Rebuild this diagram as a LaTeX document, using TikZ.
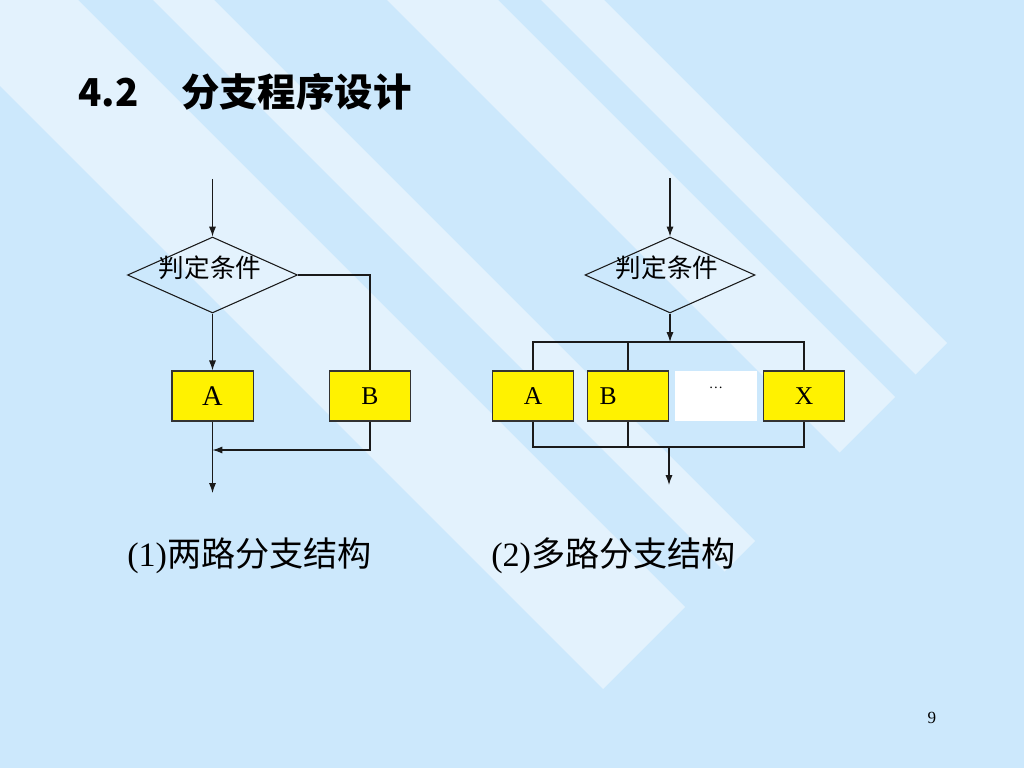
\documentclass[tikz,border=0pt]{standalone}
\usepackage{fontspec}
\setmainfont{Liberation Serif}
\newfontfamily\cjk{Noto Sans CJK SC}
\usetikzlibrary{shapes.geometric,arrows.meta}
\definecolor{bgblue}{HTML}{CCE8FC}
\definecolor{bandblue}{HTML}{E3F2FD}
\definecolor{lncol}{HTML}{1A1A1A}
\tikzset{
 ln/.style={draw=lncol, line width=0.75pt},
 arr/.style={ln, -{Latex[length=7pt,width=5pt]}},
 box/.style={rectangle, draw=black!80, line width=0.75pt, fill=yellow, minimum width=57pt, minimum height=35.2pt, inner sep=0pt, font=\fontsize{18}{18}\selectfont},
 wbox/.style={rectangle, fill=white, minimum width=57pt, minimum height=35.2pt, inner sep=0pt},
 dia/.style={diamond, draw=lncol, line width=0.75pt, minimum width=119.5pt, minimum height=53.4pt, inner sep=0pt},
 dlbl/.style={font=\cjk\fontsize{18}{18}\selectfont, inner sep=0pt},
 captxt/.style={font=\fontsize{24}{24}\selectfont, anchor=west, inner sep=0pt},
 band/.style={fill=bandblue},
}
\begin{document}
\begin{tikzpicture}[x=0.703125pt, y=-0.703125pt]
\useasboundingbox (0,0) rectangle (1024,768);
\fill[bgblue] (0,0) rectangle (1024,768);
\begin{scope}
\clip (0,0) rectangle (1024,768);
\fill[band] (-200,-114) -- (603,689) -- (685,607) -- (-200,-278) -- cycle;
\fill[band] (-200,-353) -- (724.5,571.5) -- (755,541) -- (-200,-414) -- cycle;
\fill[band] (-200,-587) -- (839.5,452.5) -- (895,397) -- (-200,-698) -- cycle;
\fill[band] (-200,-741) -- (915.5,374.5) -- (947,343) -- (-200,-804) -- cycle;
\end{scope}

% title
\node[anchor=west, inner sep=0pt, font=\cjk\bfseries\fontsize{27}{27}\selectfont] (title) at (78,92) {4.2\hspace{30pt}分支程序设计};

% left diagram
\coordinate (in1) at (212.5,179);
\node[dia] (d1) at (212.5,275) {};
\node[dlbl] (t1) at (210,268) {判定条件};
\node[box, font=\fontsize{20}{20}\selectfont] (a1) at (212.5,396) {A};
\node[box] (b1) at (370,396) {B};
\coordinate (j1) at (212.5,450);
\coordinate (out1) at (212.5,493);
\draw[arr] (in1) -- (d1.north);
\draw[arr] (d1.south) -- (a1.north);
\draw[ln] (d1.east) -| (b1.north);
\draw[arr] (b1.south) |- (j1);
\draw[arr] (a1.south) -- (out1);

% right diagram
\coordinate (in2) at (670,178);
\node[dia] (d2) at (670,275) {};
\node[dlbl] (t2) at (667,268) {判定条件};
\node[box] (a2) at (533,396) {A};
\node[box, align=left, text width=40pt, inner xsep=8.5pt] (b2) at (628,396) {B};
\node[wbox, font=\fontsize{10}{10}\selectfont, text height=0pt, text depth=10pt] (w2) at (716,396) {…};
\node[box] (x2) at (804,396) {X};
\coordinate (bt) at (670,342);
\coordinate (bb) at (669,447);
\coordinate (out2) at (669,485);
\draw[arr] (in2) -- (d2.north);
\draw[arr] (d2.south) -- (bt);
\draw[ln] (a2.north) -- (a2.north |- bt) -- (x2.north |- bt) -- (x2.north);
\draw[ln] (b2.north) -- (b2.north |- bt);
\draw[ln] (a2.south) -- (a2.south |- bb) -- (x2.south |- bb) -- (x2.south);
\draw[ln] (b2.south) -- (b2.south |- bb);
\draw[arr] (bb) -- (out2);

% captions
\node[captxt] (c1) at (127,556) {(1){\cjk 两路分支结构}};
\node[captxt] (c2) at (491,556) {(2){\cjk 多路分支结构}};
\node[inner sep=0pt, font=\fontsize{12}{12}\selectfont] (pg) at (932,718) {9};
\end{tikzpicture}
\end{document}
